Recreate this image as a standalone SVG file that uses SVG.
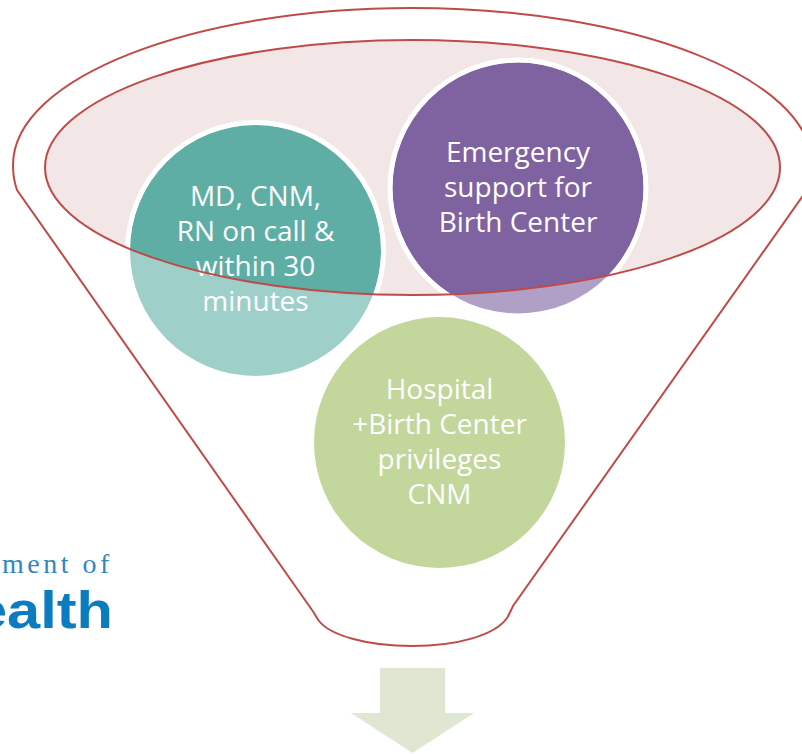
<svg xmlns="http://www.w3.org/2000/svg" width="802" height="754" viewBox="0 0 802 754">
<style>
.line{fill:none;stroke:#BE4B48;stroke-width:2}
.ring{fill:none;stroke:#fff;stroke-width:5}
.label{font-family:"Open Sans","Noto Sans",sans-serif;font-size:28px;fill:#fff;text-anchor:middle}
</style>
<defs>
<clipPath id="inner"><ellipse cx="412.5" cy="167.5" rx="367.5" ry="127.5"/></clipPath>
</defs>
<rect width="802" height="754" fill="#fff"/>
<g id="funnel">
<path class="line" d="M17 190C14.500 183 13 174 13 165C13 78 192 8 412 8C633 8 812 78 812 165C812 174 810.500 183 807 190L513 606C511 610 510 613 507 618C495 635 458 646 412 646C366 646 330 635 319 621C316 617 315 614 312 610Z"/>
<ellipse cx="412.500" cy="167.500" rx="367.500" ry="127.500" fill="#F2E6E6"/>
</g>
<g id="node-care">
<circle cx="255.500" cy="250.500" r="125.500" fill="#9FCFC9"/>
<g clip-path="url(#inner)"><circle cx="255.500" cy="250.500" r="125.500" fill="#5EAEA5"/><circle class="ring" cx="255.500" cy="250.500" r="128"/></g>
<text class="label"><tspan x="255.500" y="206">MD, CNM,</tspan><tspan x="255.500" y="241">RN on call &amp;</tspan><tspan x="255.500" y="276">within 30</tspan><tspan x="255.500" y="311">minutes</tspan></text>
</g>
<g id="node-emergency">
<circle cx="518" cy="188" r="125.500" fill="#B0A0C6"/>
<g clip-path="url(#inner)"><circle cx="518" cy="188" r="125.500" fill="#7F62A0"/><circle class="ring" cx="518" cy="188" r="128"/></g>
<text class="label"><tspan x="518" y="162">Emergency</tspan><tspan x="518" y="197">support for</tspan><tspan x="518" y="232">Birth Center</tspan></text>
</g>
<g id="node-privileges">
<circle cx="439.500" cy="442.500" r="125.500" fill="#C3D69B"/>
<text class="label"><tspan x="439.500" y="399">Hospital</tspan><tspan x="439.500" y="434">+Birth Center</tspan><tspan x="439.500" y="469">privileges</tspan><tspan x="439.500" y="504">CNM</tspan></text>
</g>
<g id="connectors">
<ellipse class="line" cx="412.500" cy="167.500" rx="367.500" ry="127.500"/>
<polygon points="380,668 445,668 445,713 474,713 412.500,753 351,713 380,713" fill="#DFE7D3"/>
</g>
<g id="logo">
<text x="2" y="573" font-family="'Liberation Serif',serif" font-size="28" letter-spacing="3.500" fill="#2F88BE">ment of</text>
<text x="-26" y="628" font-family="'Liberation Sans',sans-serif" font-size="52" font-weight="700" textLength="139" lengthAdjust="spacingAndGlyphs" fill="#0C7CC0">ealth</text>
</g>
</svg>
